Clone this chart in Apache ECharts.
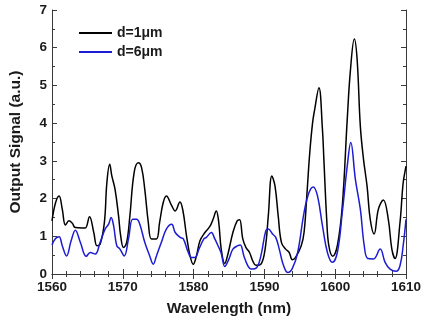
<!DOCTYPE html>
<html>
<head>
<meta charset="utf-8">
<script src="https://cdn.jsdelivr.net/npm/echarts@6/dist/echarts.min.js"></script>
<style>
  html, body { margin: 0; padding: 0; background: #fff; }
  #chart { width: 434px; height: 322px; }
</style>
</head>
<body>
<div id="chart"></div>
<script>
// Wavelength (nm) and output signal (a.u.) for d = 1 μm
const wavelength1 = [1560.0, 1560.5, 1561.0, 1561.45, 1561.9, 1562.4, 1562.85, 1563.3, 1564.25, 1564.7,
  1565.3, 1565.9, 1566.35, 1566.8, 1567.4, 1567.75, 1568.15, 1568.45, 1568.9, 1569.4,
  1569.7, 1570.1, 1570.55, 1571.0, 1571.6, 1572.2, 1572.65, 1573.1, 1573.6, 1574.05,
  1574.75, 1575.2, 1575.7, 1576.15, 1576.9, 1577.4, 1578.07, 1578.5, 1579.0, 1579.5,
  1579.95, 1580.4, 1580.9, 1581.6, 1582.3, 1582.75, 1583.2, 1583.55, 1583.9, 1584.4,
  1584.85, 1585.55, 1586.15, 1586.5, 1586.95, 1587.4, 1587.9, 1588.35, 1588.8, 1589.5,
  1590.1, 1590.55, 1591.05, 1591.5, 1591.95, 1592.4, 1593.0, 1593.5, 1593.95, 1594.4,
  1595.2, 1595.6, 1596.0, 1596.4, 1596.8, 1597.1, 1597.7, 1598.2, 1598.4, 1598.8,
  1599.1, 1599.65, 1600.3, 1601.0, 1601.7, 1602.15, 1602.7, 1603.1, 1603.55, 1604.0,
  1604.5, 1604.95, 1605.5, 1606.1, 1606.8, 1607.5, 1608.0, 1608.45, 1609.15, 1609.6, 1610.0];
const signal1 = [1.41, 1.89, 2.07, 1.72, 1.30, 1.41, 1.35, 1.23, 1.22, 1.22,
  1.52, 1.10, 0.75, 0.79, 1.37, 2.42, 2.91, 2.60, 2.25, 1.54,
  1.01, 0.70, 0.84, 1.54, 2.69, 2.95, 2.82, 2.25, 1.37, 0.93,
  0.93, 1.37, 1.89, 2.07, 1.81, 1.67, 1.91, 1.67, 1.01, 0.48,
  0.26, 0.48, 0.88, 1.10, 1.26, 1.45, 1.67, 1.37, 0.66, 0.28,
  0.53, 1.10, 1.41, 1.44, 0.93, 0.70, 0.57, 0.35, 0.23, 0.26,
  0.66, 1.54, 2.60, 2.33, 1.54, 0.84, 0.66, 0.57, 0.38, 0.44,
  0.75, 1.10, 2.10, 3.20, 4.00, 4.36, 4.94, 3.83, 3.04, 1.45,
  0.75, 0.47, 0.75, 1.80, 4.10, 5.40, 6.23, 5.68, 3.92, 3.04,
  2.33, 1.45, 1.06, 1.72, 1.96, 1.45, 0.66, 0.41, 1.36, 2.42, 2.86];

// Wavelength (nm) and output signal (a.u.) for d = 6 μm
const wavelength6 = [1560.0, 1560.5, 1561.0, 1561.45, 1562.05, 1562.7, 1563.3, 1564.0, 1564.85, 1565.4,
  1566.1, 1566.8, 1567.5, 1568.0, 1568.35, 1568.7, 1569.15, 1569.6, 1570.2, 1570.8,
  1571.4, 1571.95, 1572.4, 1573.1, 1573.8, 1574.3, 1574.75, 1575.45, 1576.15, 1576.9,
  1577.4, 1578.1, 1578.55, 1579.25, 1579.7, 1580.2, 1580.75, 1581.45, 1581.8, 1582.5,
  1583.0, 1583.45, 1583.9, 1584.4, 1585.0, 1585.55, 1586.25, 1586.6, 1587.1, 1587.65,
  1588.1, 1588.95, 1589.5, 1590.2, 1590.55, 1591.15, 1591.6, 1592.1, 1592.55, 1593.0,
  1593.3, 1593.95, 1594.7, 1595.6, 1596.3, 1596.9, 1597.5, 1598.2, 1598.9, 1599.6,
  1600.3, 1601.0, 1601.7, 1602.2, 1602.85, 1603.55, 1604.1, 1604.6, 1605.4, 1606.35,
  1607.05, 1607.75, 1608.6, 1609.15, 1609.6, 1610.0];
const signal6 = [0.77, 0.94, 0.99, 0.75, 0.48, 0.88, 1.16, 0.84, 0.47, 0.57,
  0.53, 0.84, 1.19, 1.32, 1.50, 1.28, 0.75, 0.66, 0.48, 0.93,
  1.45, 1.45, 1.32, 0.84, 0.48, 0.26, 0.48, 0.84, 1.19, 1.32,
  1.10, 0.97, 0.93, 0.57, 0.44, 0.44, 0.66, 0.93, 0.97, 1.10,
  0.93, 0.75, 0.55, 0.20, 0.40, 0.66, 0.75, 0.77, 0.48, 0.22,
  0.13, 0.18, 0.48, 1.15, 1.19, 1.06, 0.97, 0.66, 0.31, 0.09,
  0.04, 0.15, 0.57, 1.63, 2.16, 2.31, 2.07, 1.28, 0.57, 0.31,
  0.57, 1.63, 2.86, 3.49, 2.51, 1.72, 0.75, 0.41, 0.40, 0.66,
  0.31, 0.13, 0.07, 0.22, 0.75, 1.45];

const seriesNames = ['d=1\u03bcm', 'd=6\u03bcm'];
const xTicks = { min: 1560, max: 1610, step: 10 };
const yTicks = { min: 0, max: 7, step: 1 };

const pairs = (xs, ys) => xs.map((x, i) => [x, ys[i]]);

const FONT = '"Liberation Sans", Arial, sans-serif';
const AXIS_COLOR = '#3a3a3a';
const TEXT_COLOR = '#1a1a1a';

const axisLine = { show: true, lineStyle: { color: AXIS_COLOR, width: 1 } };
const axisTick = { show: true, inside: true, length: 5, lineStyle: { color: AXIS_COLOR } };
const minorTick = (n) => ({ show: true, splitNumber: n, length: 3, lineStyle: { color: AXIS_COLOR } });
const labelStyle = { fontFamily: FONT, fontWeight: 'bold', fontSize: 13.5, color: TEXT_COLOR };
const titleStyle = { fontFamily: FONT, fontWeight: 'bold', fontSize: 15.5, color: TEXT_COLOR };

const chart = echarts.init(document.getElementById('chart'), null, { renderer: 'canvas' });
chart.setOption({
  backgroundColor: '#ffffff',
  animation: false,
  grid: { left: 49.5, right: 28, top: 10, bottom: 47 },
  legend: {
    data: seriesNames,
    orient: 'vertical',
    left: 79,
    top: 26,
    padding: 0,
    itemWidth: 33,
    itemHeight: 2,
    itemGap: 5,
    icon: 'rect',
    textStyle: { fontFamily: FONT, fontWeight: 'bold', fontSize: 14, color: TEXT_COLOR }
  },
  xAxis: [
    {
      type: 'value', min: xTicks.min, max: xTicks.max, interval: xTicks.step,
      axisLine, axisTick, splitLine: { show: false }, minorTick: minorTick(5),
      axisLabel: Object.assign({ margin: 6, formatter: (v) => String(v) }, labelStyle),
      name: 'Wavelength (nm)', nameLocation: 'middle', nameGap: 27, nameTextStyle: titleStyle
    },
    {
      type: 'value', position: 'top', min: xTicks.min, max: xTicks.max, interval: xTicks.step,
      axisLine, axisTick, splitLine: { show: false }, minorTick: minorTick(5),
      axisLabel: { show: false }
    }
  ],
  yAxis: [
    {
      type: 'value', min: yTicks.min, max: yTicks.max, interval: yTicks.step,
      axisLine, axisTick, splitLine: { show: false }, minorTick: minorTick(2),
      axisLabel: Object.assign({ margin: 5 }, labelStyle),
      name: 'Output Signal (a.u.)', nameLocation: 'middle', nameGap: 28, nameRotate: 90,
      nameTextStyle: titleStyle
    },
    {
      type: 'value', position: 'right', min: yTicks.min, max: yTicks.max, interval: yTicks.step,
      axisLine, axisTick, splitLine: { show: false }, minorTick: minorTick(2),
      axisLabel: { show: false }
    }
  ],
  series: [
    {
      name: seriesNames[0], type: 'line', xAxisIndex: 0, yAxisIndex: 0,
      data: pairs(wavelength1, signal1),
      showSymbol: false, smooth: 0.4, clip: true,
      color: '#000000',
      lineStyle: { color: '#000000', width: 1.5 }
    },
    {
      name: seriesNames[1], type: 'line', xAxisIndex: 0, yAxisIndex: 0,
      data: pairs(wavelength6, signal6),
      showSymbol: false, smooth: 0.4, clip: true,
      color: '#1c1cd4',
      lineStyle: { color: '#1c1cd4', width: 1.5 }
    }
  ]
});
</script>
</body>
</html>
